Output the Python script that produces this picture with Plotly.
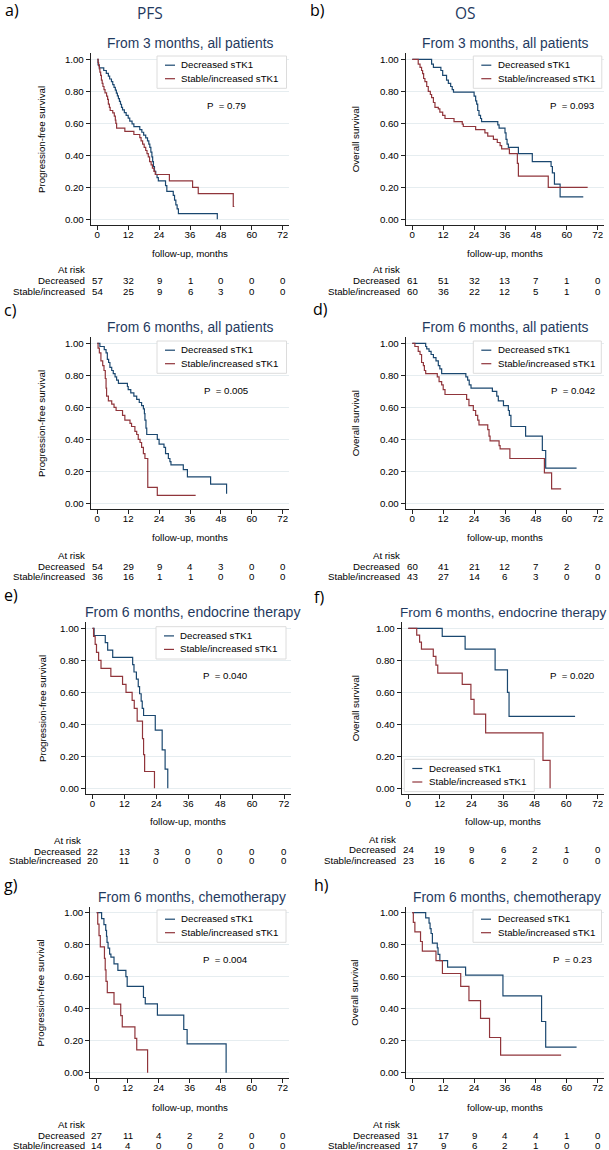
import plotly.graph_objects as go

W, H = 609, 1150

# ---------------- data (months, survival after each step) ----------------
months_ticks = [0, 12, 24, 36, 48, 60, 72]
surv_ticks = [0, 0.2, 0.4, 0.6, 0.8, 1.0]
surv_ticktext = ["0.00", "0.20", "0.40", "0.60", "0.80", "1.00"]

# a) PFS, from 3 months, all patients
a_dec_t = [0.3, 0.8, 2.5, 3.5, 4.3, 4.8, 5.5, 6.0, 6.5, 7.0, 7.4, 7.8, 8.2, 8.6, 9.0, 9.4, 9.8, 10.5, 11.2, 12.0,
           12.6, 13.5, 14.2, 16.5, 17.3, 18.0, 18.8, 19.5, 20.0, 20.4, 20.8, 21.2, 21.5, 21.8, 22.2, 22.7, 23.2, 23.7,
           26.5, 27.0, 29.5, 30.0, 30.5, 31.0, 31.5, 46.6]
a_dec_s = [0.965, 0.947, 0.93, 0.912, 0.895, 0.877, 0.86, 0.842, 0.825, 0.807, 0.789, 0.772, 0.754, 0.737, 0.719,
           0.70, 0.684, 0.667, 0.649, 0.632, 0.614, 0.596, 0.579, 0.561, 0.544, 0.526, 0.509, 0.49, 0.47, 0.45,
           0.42, 0.39, 0.36, 0.33, 0.30, 0.28, 0.26, 0.24, 0.21, 0.175, 0.15, 0.12, 0.09, 0.065, 0.035, 0.0]
a_dec_end = 46.6
a_inc_t = [0.3, 0.5, 0.8, 1.0, 1.3, 1.6, 1.9, 2.2, 2.6, 3.0, 3.6, 4.0, 4.3, 4.7, 5.0, 6.0, 6.6, 7.0, 7.2, 7.5,
           10.7, 14.2, 16.5, 17.0, 17.6, 18.2, 18.8, 19.3, 19.8, 20.3, 20.9, 21.4, 22.0, 22.5, 28.0, 37.0, 39.2, 52.8]
a_inc_s = [0.98, 0.96, 0.94, 0.92, 0.90, 0.87, 0.85, 0.83, 0.81, 0.79, 0.77, 0.75, 0.72, 0.70, 0.68, 0.665, 0.645,
           0.62, 0.60, 0.57, 0.55, 0.53, 0.51, 0.49, 0.47, 0.45, 0.43, 0.41, 0.39, 0.36, 0.34, 0.32, 0.30, 0.28,
           0.24, 0.20, 0.16, 0.08]
a_inc_end = 53.2
a_risk_dec = [57, 32, 9, 1, 0, 0, 0]
a_risk_inc = [54, 25, 9, 6, 3, 0, 0]

# b) OS, from 3 months, all patients
b_dec_t = [7.5, 8.2, 11.1, 11.8, 13.3, 14.0, 14.9, 15.5, 16.0, 24.0, 24.6, 25.0, 25.4, 25.9, 26.5, 26.9, 33.2,
           33.7, 36.0, 36.4, 36.8, 37.3, 41.2, 46.6, 53.9, 54.4, 55.2, 57.4]
b_dec_s = [0.97, 0.95, 0.93, 0.90, 0.87, 0.85, 0.83, 0.81, 0.795, 0.77, 0.74, 0.72, 0.68, 0.65, 0.63, 0.61, 0.59,
           0.57, 0.54, 0.50, 0.47, 0.45, 0.41, 0.36, 0.33, 0.29, 0.22, 0.14]
b_dec_end = 66.4
b_inc_t = [2.3, 3.0, 3.6, 4.0, 4.4, 4.9, 5.6, 6.2, 7.0, 7.5, 8.2, 8.8, 10.1, 10.7, 11.8, 12.7, 16.2, 19.4, 19.8,
           24.6, 28.2, 29.3, 31.5, 33.0, 34.1, 34.7, 37.7, 40.8, 41.2, 52.8]
b_inc_s = [0.97, 0.95, 0.93, 0.91, 0.88, 0.86, 0.83, 0.80, 0.78, 0.76, 0.73, 0.70, 0.69, 0.67, 0.65, 0.63, 0.61,
           0.595, 0.58, 0.56, 0.54, 0.52, 0.50, 0.48, 0.46, 0.44, 0.41, 0.35, 0.27, 0.20]
b_inc_end = 68.1
b_risk_dec = [61, 51, 32, 13, 7, 1, 0]
b_risk_inc = [60, 36, 22, 12, 5, 1, 0]

# c) PFS, from 6 months, all patients
c_dec_t = [1.0, 2.7, 3.4, 3.9, 4.4, 4.9, 5.6, 6.2, 6.9, 7.5, 8.2, 11.7, 12.0, 13.0, 14.2, 15.3, 16.3, 17.2, 17.9,
           18.3, 18.5, 18.9, 19.2, 23.3, 24.0, 25.9, 26.5, 27.6, 28.2, 28.6, 33.4, 35.0, 44.0, 50.2]
c_dec_s = [0.98, 0.96, 0.94, 0.90, 0.88, 0.85, 0.83, 0.81, 0.79, 0.77, 0.75, 0.73, 0.71, 0.69, 0.67, 0.65, 0.63,
           0.61, 0.59, 0.56, 0.52, 0.47, 0.43, 0.40, 0.37, 0.35, 0.31, 0.28, 0.26, 0.24, 0.21, 0.165, 0.12, 0.06]
c_dec_end = 50.2
c_inc_t = [0.3, 0.8, 1.4, 2.1, 2.6, 3.1, 3.4, 3.6, 4.3, 5.6, 6.5, 7.3, 9.8, 10.7, 12.7, 13.3, 14.6, 15.3, 15.9,
           16.6, 17.2, 17.9, 18.5, 19.6, 23.3]
c_inc_s = [0.97, 0.94, 0.89, 0.86, 0.83, 0.78, 0.72, 0.67, 0.64, 0.62, 0.60, 0.58, 0.55, 0.52, 0.50, 0.48, 0.45,
           0.43, 0.40, 0.38, 0.35, 0.31, 0.28, 0.10, 0.05]
c_inc_end = 38.2
c_risk_dec = [54, 29, 9, 4, 3, 0, 0]
c_risk_inc = [36, 16, 1, 1, 0, 0, 0]

# d) OS, from 6 months, all patients
d_dec_t = [5.2, 5.6, 6.5, 7.3, 8.2, 9.2, 10.1, 10.7, 11.4, 20.8, 21.5, 22.1, 22.8, 31.1, 32.8, 33.4, 35.4, 37.3,
           37.7, 38.3, 44.0, 50.5, 51.8]
d_dec_s = [0.98, 0.965, 0.95, 0.93, 0.91, 0.89, 0.86, 0.84, 0.81, 0.79, 0.77, 0.74, 0.72, 0.70, 0.67, 0.64, 0.61,
           0.58, 0.55, 0.48, 0.42, 0.33, 0.22]
d_dec_end = 63.8
d_inc_t = [1.0, 2.3, 3.0, 3.6, 4.3, 4.7, 5.2, 9.7, 10.4, 11.4, 12.0, 12.7, 21.1, 22.0, 23.7, 24.6, 25.4, 25.9,
           29.3, 29.8, 30.2, 33.7, 34.1, 37.9, 51.3, 54.1]
d_inc_s = [0.98, 0.95, 0.93, 0.88, 0.86, 0.83, 0.81, 0.79, 0.76, 0.74, 0.71, 0.68, 0.65, 0.61, 0.58, 0.55, 0.52,
           0.49, 0.46, 0.42, 0.39, 0.36, 0.34, 0.28, 0.19, 0.09]
d_inc_end = 57.8
d_risk_dec = [60, 41, 21, 12, 7, 2, 0]
d_risk_inc = [43, 27, 14, 6, 3, 0, 0]

# e) PFS, from 6 months, endocrine therapy
e_dec_t = [0.6, 4.8, 5.7, 7.6, 15.1, 15.6, 16.5, 17.2, 17.7, 18.3, 18.7, 19.2, 23.6, 26.2, 27.3, 28.3]
e_dec_s = [0.955, 0.91, 0.864, 0.818, 0.773, 0.727, 0.682, 0.636, 0.591, 0.545, 0.50, 0.455, 0.364, 0.24, 0.12, 0.0]
e_dec_end = 28.3
e_inc_t = [0.4, 1.0, 1.5, 2.3, 3.2, 6.9, 11.3, 12.6, 14.9, 15.7, 16.8, 18.8, 19.2, 19.6, 23.3]
e_inc_s = [0.95, 0.90, 0.85, 0.80, 0.75, 0.70, 0.65, 0.60, 0.55, 0.50, 0.42, 0.31, 0.21, 0.105, 0.0]
e_inc_end = 23.3
e_risk_dec = [22, 13, 3, 0, 0, 0, 0]
e_risk_inc = [20, 11, 0, 0, 0, 0, 0]

# f) OS, from 6 months, endocrine therapy
f_dec_t = [12.9, 21.6, 33.0, 37.7, 38.3]
f_dec_s = [0.95, 0.87, 0.74, 0.60, 0.45]
f_dec_end = 63.4
f_inc_t = [3.2, 4.3, 5.0, 9.5, 10.5, 11.2, 20.5, 23.8, 25.0, 29.4, 51.2, 53.9]
f_inc_s = [0.957, 0.913, 0.87, 0.824, 0.77, 0.72, 0.65, 0.556, 0.463, 0.347, 0.174, 0.0]
f_inc_end = 53.9
f_risk_dec = [24, 19, 9, 6, 2, 1, 0]
f_risk_inc = [23, 16, 6, 2, 2, 0, 0]

# g) PFS, from 6 months, chemotherapy
g_dec_t = [1.9, 2.8, 3.5, 3.8, 4.0, 4.4, 5.0, 5.5, 6.7, 8.2, 11.3, 11.8, 18.1, 18.8, 23.5, 33.7, 35.0, 50.1]
g_dec_s = [0.963, 0.926, 0.889, 0.852, 0.815, 0.778, 0.741, 0.722, 0.68, 0.64, 0.60, 0.54, 0.47, 0.43, 0.36,
           0.27, 0.18, 0.0]
g_dec_end = 50.1
g_inc_t = [0.4, 0.9, 1.4, 3.0, 3.3, 3.6, 4.1, 6.7, 9.3, 9.9, 14.8, 15.5, 19.7]
g_inc_s = [0.929, 0.857, 0.786, 0.714, 0.643, 0.571, 0.50, 0.429, 0.357, 0.286, 0.214, 0.143, 0.0]
g_inc_end = 19.7
g_risk_dec = [27, 11, 4, 2, 2, 0, 0]
g_risk_inc = [14, 4, 0, 0, 0, 0, 0]

# h) OS, from 6 months, chemotherapy
h_dec_t = [5.2, 6.5, 6.9, 7.3, 7.8, 9.7, 10.0, 10.7, 13.7, 20.7, 35.2, 50.2, 51.8]
h_dec_s = [0.968, 0.935, 0.90, 0.87, 0.81, 0.78, 0.74, 0.70, 0.66, 0.61, 0.48, 0.32, 0.16]
h_dec_end = 63.8
h_inc_t = [0.4, 1.0, 3.2, 3.9, 9.2, 11.7, 18.8, 22.0, 26.5, 30.0, 34.3]
h_inc_s = [0.94, 0.88, 0.82, 0.76, 0.70, 0.62, 0.54, 0.45, 0.34, 0.22, 0.11]
h_inc_end = 57.8
h_risk_dec = [31, 17, 9, 4, 4, 1, 0]
h_risk_inc = [17, 9, 6, 2, 1, 0, 0]

p_values = {"a": "0.79", "b": "0.093", "c": "0.005", "d": "0.042",
            "e": "0.040", "f": "0.020", "g": "0.004", "h": "0.23"}
titles = {"a": "From 3 months, all patients", "b": "From 3 months, all patients",
          "c": "From 6 months, all patients", "d": "From 6 months, all patients",
          "e": "From 6 months, endocrine therapy", "f": "From 6 months, endocrine therapy",
          "g": "From 6 months, chemotherapy", "h": "From 6 months, chemotherapy"}
pfs_label = "Progression-free survival"
os_label = "Overall survival"
legend_dec = "Decreased sTK1"
legend_inc = "Stable/increased sTK1"
row_dec = "Decreased"
row_inc = "Stable/increased"

data = {
    "a": (a_dec_t, a_dec_s, a_dec_end, a_inc_t, a_inc_s, a_inc_end, a_risk_dec, a_risk_inc),
    "b": (b_dec_t, b_dec_s, b_dec_end, b_inc_t, b_inc_s, b_inc_end, b_risk_dec, b_risk_inc),
    "c": (c_dec_t, c_dec_s, c_dec_end, c_inc_t, c_inc_s, c_inc_end, c_risk_dec, c_risk_inc),
    "d": (d_dec_t, d_dec_s, d_dec_end, d_inc_t, d_inc_s, d_inc_end, d_risk_dec, d_risk_inc),
    "e": (e_dec_t, e_dec_s, e_dec_end, e_inc_t, e_inc_s, e_inc_end, e_risk_dec, e_risk_inc),
    "f": (f_dec_t, f_dec_s, f_dec_end, f_inc_t, f_inc_s, f_inc_end, f_risk_dec, f_risk_inc),
    "g": (g_dec_t, g_dec_s, g_dec_end, g_inc_t, g_inc_s, g_inc_end, g_risk_dec, g_risk_inc),
    "h": (h_dec_t, h_dec_s, h_dec_end, h_inc_t, h_inc_s, h_inc_end, h_risk_dec, h_risk_inc),
}

# ---------------- layout geometry (pixels) ----------------
geom = {
    "a": dict(x0=97.3, x72=282.7, y1=59.3, y0=219.3, ty=43.3, tx=190, ts=13.8, leg=(157, 56, 129.5),
              p=(226.5, 106), xt=253.3, risk=(269.5, 281, 291.7), yt=41.7, tag=(3, 10), ylab=pfs_label),
    "b": dict(x0=412.3, x72=597.7, y1=59.3, y0=219.3, ty=43.3, tx=505.5, ts=13.8, leg=(473.3, 56, 128.5),
              p=(572, 106), xt=253.3, risk=(269.5, 281, 291.7), yt=355, tag=(307.5, 10), ylab=os_label),
    "c": dict(x0=97.3, x72=282.7, y1=343.3, y0=503.3, ty=327.3, tx=190, ts=13.8, leg=(157, 341, 129.5),
              p=(225.7, 390), xt=537.3, risk=(555, 566, 576), yt=41.7, tag=(2, 310), ylab=pfs_label),
    "d": dict(x0=412.3, x72=597.7, y1=343.3, y0=503.3, ty=327.3, tx=505.5, ts=13.8, leg=(473.3, 341, 128),
              p=(573, 390), xt=537.3, risk=(555, 566, 576), yt=355, tag=(311, 309), ylab=os_label),
    "e": dict(x0=92.5, x72=284, y1=628.3, y0=788.3, ty=612.3, tx=192.5, ts=14.1, leg=(156, 626.7, 130),
              p=(225, 675), xt=821.7, risk=(840, 851, 860.7), yt=42.7, tag=(2, 595), ylab=pfs_label),
    "f": dict(x0=408.3, x72=597.7, y1=628.3, y0=788.3, ty=612.3, tx=503, ts=13.5, leg=(404.3, 759.3, 130),
              p=(572, 675), xt=821.7, risk=(839.3, 849.7, 860), yt=355, tag=(312, 596.5), ylab=os_label),
    "g": dict(x0=96.7, x72=282.7, y1=912.7, y0=1072.7, ty=897.3, tx=192, ts=13.8, leg=(157, 910, 129),
              p=(225.3, 959.3), xt=1107.3, risk=(1124.5, 1135.5, 1145.2), yt=40.7, tag=(2, 885),
              ylab=pfs_label),
    "h": dict(x0=412.3, x72=597.7, y1=912.7, y0=1072.7, ty=897.3, tx=506.5, ts=13.8, leg=(473, 910, 128.5),
              p=(572.7, 959.3), xt=1107.3, risk=(1124.2, 1135.5, 1145.2), yt=355, tag=(312, 885),
              ylab=os_label),
}

NAVY = "#1a476f"
MAROON = "#90353b"
TITLE_C = "#1f3a60"
FONT = "Liberation Sans, Arial, sans-serif"
SMALL = 9.7


def px(x):
    return x / W


def py(y):
    return 1 - y / H


def km(t, s, end):
    xs = [0] + list(t)
    ys = [1.0] + list(s)
    if end > t[-1]:
        xs.append(end)
        ys.append(s[-1])
    return xs, ys


fig = go.Figure()
annotations = []
shapes = []
layout_axes = {}

for i, key in enumerate(["a", "b", "c", "d", "e", "f", "g", "h"]):
    n = i + 1
    g = geom[key]
    dt, ds, de, it, is_, ie, rd, ri = data[key]
    xa = "x" if n == 1 else f"x{n}"
    ya = "y" if n == 1 else f"y{n}"
    ppm = (g["x72"] - g["x0"]) / 72.0
    ppv = g["y0"] - g["y1"]
    lpad, rpad, bpad, tpad = 6.6, 6.6, 5.7, 6.0
    xdom = [px(g["x0"] - lpad), px(g["x72"] + rpad)]
    xr = [-lpad / ppm, 72 + rpad / ppm]
    ydom = [py(g["y0"] + bpad), py(g["y1"] - tpad)]
    yr = [-bpad / ppv, 1 + tpad / ppv]

    for (t, s, e, col) in [(dt, ds, de, NAVY), (it, is_, ie, MAROON)]:
        xs, ys = km(t, s, e)
        fig.add_trace(go.Scatter(x=xs, y=ys, mode="lines", line=dict(color=col, width=1.2, shape="hv"),
                                 xaxis=xa, yaxis=ya, showlegend=False, hoverinfo="skip"))

    axis_common = dict(showline=True, linecolor="#222", linewidth=1, ticks="outside", ticklen=4,
                       tickcolor="#222", tickwidth=1, zeroline=False,
                       tickfont=dict(family=FONT, size=SMALL, color="#000"), fixedrange=True)
    layout_axes[("xaxis" if n == 1 else f"xaxis{n}")] = dict(
        domain=xdom, range=xr, anchor=ya, tickvals=months_ticks, showgrid=False, ticklabelstandoff=-4,
        **axis_common)
    layout_axes[("yaxis" if n == 1 else f"yaxis{n}")] = dict(
        domain=ydom, range=yr, anchor=xa, tickvals=surv_ticks, ticktext=surv_ticktext, showgrid=True,
        gridcolor="#e6edf0", gridwidth=1, **axis_common)

    xc = (g["x0"] + g["x72"]) / 2
    # panel title
    annotations.append(dict(x=px(g["tx"]), y=py(g["ty"]), xref="paper", yref="paper", text=titles[key],
                            showarrow=False, xanchor="center", yanchor="middle",
                            font=dict(family=FONT, size=g["ts"], color=TITLE_C)))
    # tag
    annotations.append(dict(x=px(g["tag"][0]), y=py(g["tag"][1]), xref="paper", yref="paper", text=f"{key})",
                            showarrow=False, xanchor="left", yanchor="middle",
                            font=dict(family="Open Sans, sans-serif", size=16, color="#000")))
    # y title
    annotations.append(dict(x=px(g["yt"]), y=py((g["y0"] + g["y1"]) / 2), xref="paper", yref="paper",
                            text=g["ylab"], textangle=-90, showarrow=False, xanchor="center",
                            yanchor="middle", font=dict(family=FONT, size=SMALL, color="#000")))
    # x title
    annotations.append(dict(x=px(xc), y=py(g["xt"]), xref="paper", yref="paper", text="follow-up, months",
                            showarrow=False, xanchor="center", yanchor="middle",
                            font=dict(family=FONT, size=SMALL, color="#000")))
    # p value
    annotations.append(dict(x=px(g["p"][0]), y=py(g["p"][1]), xref="paper", yref="paper",
                            text=f"P  = {p_values[key]}", showarrow=False, xanchor="center",
                            yanchor="middle", font=dict(family=FONT, size=SMALL, color="#000")))
    # at-risk table
    lab_x = px(g["x0"] - 10)
    annotations.append(dict(x=lab_x, y=py(g["risk"][0]), xref="paper", yref="paper", text="At risk",
                            showarrow=False, xanchor="right", yanchor="middle",
                            font=dict(family=FONT, size=SMALL, color="#000")))
    for lab, vals, yy in [(row_dec, rd, g["risk"][1]), (row_inc, ri, g["risk"][2])]:
        annotations.append(dict(x=lab_x, y=py(yy), xref="paper", yref="paper", text=lab,
                                showarrow=False, xanchor="right", yanchor="middle",
                                font=dict(family=FONT, size=SMALL, color="#000")))
        for tv, v in zip(months_ticks, vals):
            annotations.append(dict(x=tv, y=py(yy), xref=xa, yref="paper", text=str(v),
                                    showarrow=False, xanchor="center", yanchor="middle",
                                    font=dict(family=FONT, size=SMALL, color="#000")))
    # legend box
    lx, ly, lw = g["leg"]
    lh = 32.3
    shapes.append(dict(type="rect", xref="paper", yref="paper", x0=px(lx), x1=px(lx + lw),
                       y0=py(ly + lh), y1=py(ly), line=dict(color="#dcdcdc", width=1), fillcolor="white",
                       layer="above"))
    for j, (txt, col) in enumerate([(legend_dec, NAVY), (legend_inc, MAROON)]):
        yy = ly + 8.7 + j * 13.5
        shapes.append(dict(type="line", xref="paper", yref="paper", x0=px(lx + 8), x1=px(lx + 18),
                           y0=py(yy + 0.5), y1=py(yy + 0.5), line=dict(color=col, width=1.2), layer="above"))
        annotations.append(dict(x=px(lx + 22.5), y=py(yy), xref="paper", yref="paper", text=txt,
                                showarrow=False, xanchor="left", yanchor="middle",
                                font=dict(family=FONT, size=SMALL, color="#000")))

# column headers
annotations.append(dict(x=px(150), y=py(13.3), xref="paper", yref="paper", text="PFS", showarrow=False,
                        xanchor="center", yanchor="middle",
                        font=dict(family="Open Sans, sans-serif", size=15.5, color=TITLE_C)))
annotations.append(dict(x=px(465), y=py(13.3), xref="paper", yref="paper", text="OS", showarrow=False,
                        xanchor="center", yanchor="middle",
                        font=dict(family="Open Sans, sans-serif", size=15.5, color=TITLE_C)))

fig.update_layout(width=W, height=H, margin=dict(l=0, r=0, t=0, b=0), paper_bgcolor="white",
                  plot_bgcolor="white", showlegend=False, annotations=annotations, shapes=shapes,
                  **layout_axes)

fig.write_html("out.html", config={"displayModeBar": False},
               post_script="document.body.style.margin='0';document.body.style.overflow='hidden';")
